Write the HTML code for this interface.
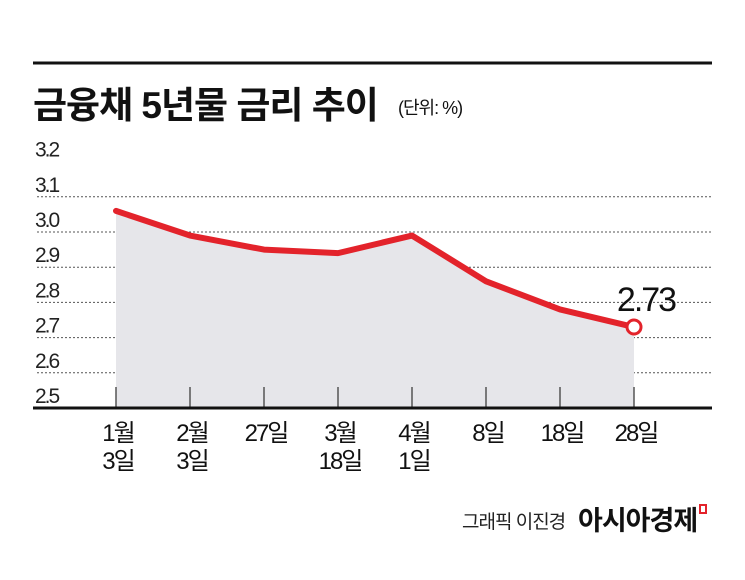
<!DOCTYPE html>
<html><head><meta charset="utf-8"><style>
body{margin:0;background:#fff;}
svg{display:block;font-family:"Liberation Sans","Noto Sans CJK KR",sans-serif;}
</style></head><body>
<svg width="745" height="580" viewBox="0 0 745 580">
<rect x="0" y="0" width="745" height="580" fill="#fff"/>
<line x1="33" y1="63" x2="712" y2="63" stroke="#111" stroke-width="3"/>
<text x="33" y="118" font-size="37" font-weight="bold" fill="#111" letter-spacing="-1">금융채 5년물 금리 추이</text>
<text x="398" y="114" font-size="18" fill="#111" letter-spacing="-1">(단위: %)</text>
<g id="grid"></g>
<path id="area" fill="#e6e6ea"/>
<g id="ticks"></g>
<line x1="33" y1="408" x2="712" y2="408" stroke="#111" stroke-width="3"/>
<g id="ylabels"></g>
<g id="xlabels"></g>
<path id="line" fill="none" stroke="#e3232b" stroke-width="6" stroke-linejoin="round" stroke-linecap="round"/>
<circle id="endpt" r="7" fill="#fff" stroke="#e3232b" stroke-width="3"/>
<text id="endlbl" font-size="34" fill="#111" text-anchor="middle" letter-spacing="-2"></text>
<text x="462" y="528" font-size="19" fill="#222" letter-spacing="-1">그래픽 이진경</text>
<text x="578" y="530" font-size="27" font-weight="bold" fill="#111" letter-spacing="-1">아시아경제</text>
<rect x="700" y="505" width="6" height="8" fill="none" stroke="#e3232b" stroke-width="2"/>
</svg>
<script>
const categories=[["1월","3일"],["2월","3일"],["27일"],["3월","18일"],["4월","1일"],["8일"],["18일"],["28일"]];
const values=[3.06,2.99,2.95,2.94,2.99,2.86,2.78,2.73];
const yTicks=[2.5,2.6,2.7,2.8,2.9,3.0,3.1,3.2];
const yTickLabels=["2.5","2.6","2.7","2.8","2.9","3.0","3.1","3.2"];
const ns="http://www.w3.org/2000/svg";
function y(v){return 408-(v-2.5)/0.1*35.2;}
function x(i){return 116+i*74;}
function mk(tag,attrs,parent){const e=document.createElementNS(ns,tag);for(const k in attrs)e.setAttribute(k,attrs[k]);document.getElementById(parent).appendChild(e);return e;}
yTicks.forEach((t,i)=>{
  if(t>2.5&&t<3.2){
    const g=mk('line',{x1:37,x2:712,y1:y(t),y2:y(t),stroke:'#555','stroke-width':1,'stroke-dasharray':'2,2'},'grid');
    
    
  }
  const l=mk('text',{x:35,y:y(t)-5,'font-size':21,fill:'#222','letter-spacing':'-2'},'ylabels');
  l.textContent=yTickLabels[i];
  
  
});
categories.forEach((c,i)=>{
  const tk=mk('line',{x1:x(i),x2:x(i),y1:387,y2:408,stroke:'#555','stroke-width':1.5},'ticks');
  
  
  c.forEach((s,j)=>{
    const t=mk('text',{x:x(i)+2,y:441+j*28,'font-size':24,fill:'#111','text-anchor':'middle','letter-spacing':'-2'},'xlabels');
    t.textContent=s;
    
    
  });
});
let d=values.map((v,i)=>(i?'L':'M')+x(i)+','+y(v)).join(' ');
document.getElementById('line').setAttribute('d',d);
const n=values.length-1;
document.getElementById('area').setAttribute('d',d+' L'+x(n)+',408 L'+x(0)+',408 Z');
const ep=document.getElementById('endpt');ep.setAttribute('cx',x(n));ep.setAttribute('cy',y(values[n]));
const el=document.getElementById('endlbl');el.setAttribute('x',x(n)+12);el.setAttribute('y',y(values[n])-16);el.textContent=values[n].toFixed(2);
</script>
</body></html>
